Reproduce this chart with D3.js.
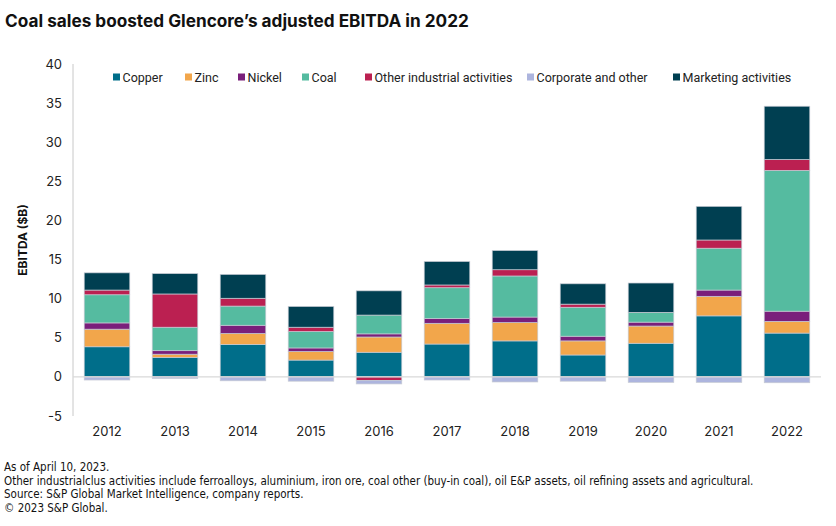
<!DOCTYPE html>
<html>
<head>
<meta charset="utf-8">
<script src="https://cdn.jsdelivr.net/npm/d3@7"></script>
<style>
  body { margin: 0; background: #fff; }
  svg { font-family: Inter, 'Noto Sans', sans-serif; }
</style>
</head>
<body>
<svg id="chart" width="836" height="526"></svg>
<script>
/* global d3 */

let years = ['2012', '2013', '2014', '2015', '2016', '2017', '2018', '2019', '2020', '2021', '2022']
let seriesNames = ['Copper', 'Zinc', 'Nickel', 'Coal', 'Other industrial activities', 'Corporate and other', 'Marketing activities']
let copper = [3.85, 2.5, 4.15, 2.15, 3.15, 4.2, 4.6, 2.8, 4.3, 7.8, 5.6]
let zinc = [2.25, 0.4, 1.4, 1.1, 1.95, 2.65, 2.35, 1.8, 2.2, 2.5, 1.5]
let nickel = [0.8, 0.45, 1.05, 0.45, 0.4, 0.6, 0.7, 0.6, 0.5, 0.8, 1.3]
let coal = [3.6, 3.0, 2.45, 2.1, 2.4, 3.95, 5.25, 3.7, 1.25, 5.35, 18.0]
let otherIndustrial = [0.6, 4.25, 1.0, 0.55, -0.45, 0.35, 0.8, 0.4, 0, 1.05, 1.4]
let corporate = [-0.4, -0.2, -0.5, -0.55, -0.45, -0.4, -0.65, -0.55, -0.7, -0.7, -0.75]
let marketing = [2.2, 2.6, 3.05, 2.65, 3.1, 3.0, 2.45, 2.6, 3.75, 4.3, 6.8]
let yTicks = [-5, 0, 5, 10, 15, 20, 25, 30, 35, 40]
let footnotes = [
  'As of April 10, 2023.',
  'Other industrialclus activities include ferroalloys, aluminium, iron ore, coal other (buy-in coal), oil E&P assets, oil refining assets and agricultural.',
  'Source: S&P Global Market Intelligence, company reports.',
  '\u00a9 2023 S&P Global.'
]

let colors = ['#006e8a', '#f2a64b', '#7a1f7b', '#55bba0', '#bb2051', '#adb5de', '#003f51']
let seriesValues = [copper, zinc, nickel, coal, otherIndustrial, corporate, marketing]

let rows = years.map(function (y, i) {
  let r = {year: y}
  seriesNames.forEach(function (s, j) { r[s] = seriesValues[j][i] })
  return r
})

let svg = d3.select('#chart')

let x = d3.scaleBand()
  .domain(years)
  .range([73, 821])
  .paddingInner(0.33)
  .paddingOuter(0.165)

let y = d3.scaleLinear()
  .domain([-5, 40])
  .range([416, 64])

// title
svg.append('text')
  .text('Coal sales boosted Glencore\u2019s adjusted EBITDA in 2022')
  .attr('x', 5)
  .attr('y', 27)
  .style('font-size', '17.2px')
  .style('font-weight', 'bold')
  .attr('fill', '#111')

// y axis line
svg.append('line')
  .attr('x1', 73)
  .attr('x2', 73)
  .attr('y1', y(40))
  .attr('y2', y(-5))
  .attr('stroke', '#c8c8c8')
  .attr('stroke-width', 1)

// y tick labels
svg.selectAll('.ytick')
  .data(yTicks)
  .enter().append('text')
  .attr('class', 'ytick')
  .text(function (d) { return d })
  .attr('x', 62)
  .attr('y', function (d) { return y(d) + 4.5 })
  .attr('text-anchor', 'end')
  .style('font-size', '13px')
  .attr('fill', '#222')

svg.append('text')
  .text('EBITDA ($B)')
  .attr('transform', 'translate(27,' + y(17.5) + ') rotate(-90)')
  .attr('text-anchor', 'middle')
  .style('font-size', '12px')
  .style('font-weight', 'bold')
  .attr('fill', '#111')

// bars
let stack = d3.stack()
  .keys(seriesNames)
  .offset(d3.stackOffsetDiverging)
let layers = stack(rows)

svg.selectAll('.layer')
  .data(layers)
  .enter().append('g')
  .attr('class', 'layer')
  .attr('fill', function (d, i) { return colors[i] })
  .selectAll('rect')
  .data(function (d) { return d })
  .enter().append('rect')
  .attr('x', function (d) { return x(d.data.year) })
  .attr('width', x.bandwidth())
  .attr('y', function (d) { return y(d[1]) })
  .attr('height', function (d) { return Math.abs(y(d[0]) - y(d[1])) })
  .attr('stroke', '#c6cad3')
  .attr('stroke-width', 0.7)

// zero line
svg.append('line')
  .attr('x1', 73)
  .attr('x2', 821)
  .attr('y1', y(0))
  .attr('y2', y(0))
  .attr('stroke', '#d9d9d9')
  .attr('stroke-width', 1.2)

// x labels
svg.selectAll('.xtick')
  .data(years)
  .enter().append('text')
  .attr('class', 'xtick')
  .text(function (d) { return d })
  .attr('x', function (d) { return x(d) + x.bandwidth() / 2 })
  .attr('y', 436)
  .attr('text-anchor', 'middle')
  .style('font-size', '13px')
  .attr('fill', '#222')

// legend
let legendX = [113, 185, 238, 302, 365, 527, 673]
let legend = svg.selectAll('.legend')
  .data(seriesNames)
  .enter().append('g')
  .attr('class', 'legend')
  .attr('transform', function (d, i) { return 'translate(' + legendX[i] + ',77)' })
legend.append('rect')
  .attr('x', 0)
  .attr('y', -3.5)
  .attr('width', 7)
  .attr('height', 7)
  .attr('fill', function (d, i) { return colors[i] })
legend.append('text')
  .text(function (d) { return d })
  .attr('x', 9.5)
  .attr('y', 4.5)
  .style('font-family', 'Roboto, sans-serif')
  .style('font-size', '12.5px')
  .attr('fill', '#222')

// footnotes
svg.selectAll('.foot')
  .data(footnotes)
  .enter().append('text')
  .attr('class', 'foot')
  .text(function (d) { return d })
  .attr('x', 4)
  .attr('y', function (d, i) { return 471 + i * 13.6 })
  .style('font-family', '\'Liberation Sans Narrow\', \'DejaVu Sans Condensed\', sans-serif')
  .style('font-size', '11.5px')
  .attr('fill', '#111')
</script>
</body>
</html>
